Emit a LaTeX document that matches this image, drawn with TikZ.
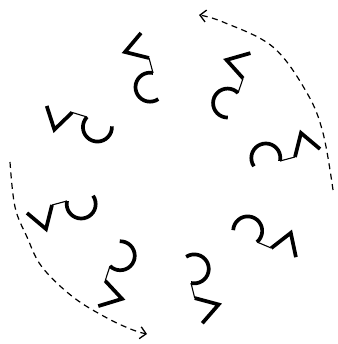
\documentclass[tikz,border=0pt]{standalone}
\usetikzlibrary{arrows.meta}
\tikzset{
  thickstroke/.style={line width=3.7pt, line cap=butt, line join=miter, miter limit=10},
  thinstroke/.style={line width=1.1pt},
  dasharc/.style={line width=1.2pt, dash pattern=on 6pt off 4.5pt,
    -{Straight Barb[length=6pt,width=12pt,line width=1.3pt]}},
  glyph/.pic={
    \coordinate (-D) at (0,0);
    \coordinate (-C) at (-4,15);
    \coordinate (-B) at (-28,21);
    \coordinate (-A) at (-12,40);
    \draw[thickstroke] (-A) -- (-B) -- (-C);
    \draw[thinstroke] (-C) -- (-D);
    \draw[thickstroke] (-D) arc[start angle=78, end angle=305, radius=14.5];
  }
}
\begin{document}
\begin{tikzpicture}[x=1pt,y=1pt]
\useasboundingbox (0,0) rectangle (337,-344);
\pic (g1) at (153,-73) {glyph};
\pic[rotate=-34] (g2) at (238,-93) {glyph};
\pic[rotate=-90] (g3) at (280,-161) {glyph};
\pic[rotate=-128] (g4) at (257,-242) {glyph};
\pic[rotate=-181] (g5) at (191,-283) {glyph};
\pic[rotate=-213] (g6) at (110,-266) {glyph};
\pic[rotate=-270] (g7) at (67,-201) {glyph};
\pic[rotate=-302] (g8) at (87,-117) {glyph};
% dashed arcs
\coordinate (r0) at (333,-190);
\coordinate (r1) at (323,-133);
\coordinate (r2) at (307,-93);
\coordinate (r3) at (273,-47);
\coordinate (r4) at (223,-22);
\coordinate (r5) at (199,-15);
\draw[dasharc] plot[smooth, tension=0.6] coordinates {(r0) (r1) (r2) (r3) (r4) (r5)};
\coordinate (l0) at (10,-162);
\coordinate (l1) at (15,-207);
\coordinate (l2) at (27,-237);
\coordinate (l3) at (42,-267);
\coordinate (l4) at (73,-297);
\coordinate (l5) at (107,-318);
\coordinate (l6) at (133,-330);
\coordinate (l7) at (147,-334);
\draw[dasharc] plot[smooth, tension=0.6] coordinates {(l0) (l1) (l2) (l3) (l4) (l5) (l6) (l7)};
\end{tikzpicture}
\end{document}
